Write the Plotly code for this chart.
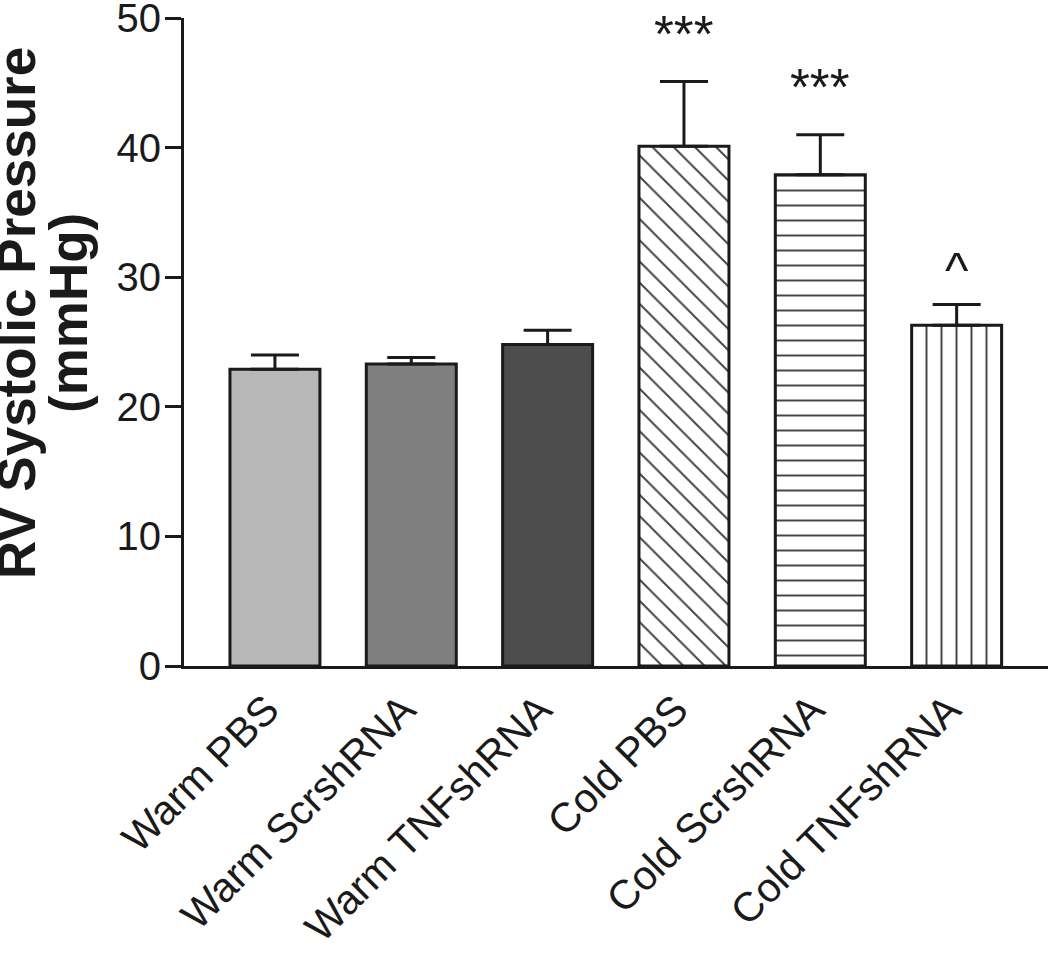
import plotly.graph_objects as go

categories = ["Warm PBS", "Warm ScrshRNA", "Warm TNFshRNA",
              "Cold PBS", "Cold ScrshRNA", "Cold TNFshRNA"]
means = [22.9, 23.3, 24.8, 40.1, 37.9, 26.3]
sem = [1.1, 0.5, 1.1, 5.0, 3.1, 1.6]
fill_colors = ["#b7b7b7", "#7f7f7f", "#4d4d4d", "white", "white", "white"]
pattern_shapes = ["", "", "", "\\", "-", "|"]
sig_labels = ["", "", "", "***", "***", "^"]
y_ticks = [0, 10, 20, 30, 40, 50]

FONT = "Liberation Sans, Arial, Helvetica, sans-serif"

fig = go.Figure()
fig.add_trace(go.Bar(
    x=categories,
    y=means,
    width=0.66,
    marker=dict(
        color=fill_colors,
        line=dict(color="#1a1a1a", width=3),
        pattern=dict(shape=pattern_shapes, fgcolor="#1a1a1a", bgcolor="white",
                     fgopacity=1, size=15, solidity=0.13, fillmode="overlay"),
    ),
    error_y=dict(type="data", symmetric=False, array=sem,
                 arrayminus=[0] * len(sem), color="#1a1a1a",
                 thickness=3, width=24),
    showlegend=False,
))

for cat, m, e, lab in zip(categories, means, sem, sig_labels):
    if lab:
        fig.add_annotation(x=cat, y=m + e, text=lab, showarrow=False,
                           yanchor="bottom", yshift=17 if lab != "^" else 4,
                           font=dict(family=FONT, size=51 if lab != "^" else 50,
                                     color="#1a1a1a"))

fig.add_annotation(
    xref="paper", yref="paper", x=-0.193, y=0.545,
    text="<b>RV Systolic Pressure</b>",
    textangle=-90, showarrow=False, xanchor="center", yanchor="middle",
    font=dict(family=FONT, size=53, color="#1a1a1a"),
)
fig.add_annotation(
    xref="paper", yref="paper", x=-0.133, y=0.545,
    text="<b>(mmHg)</b>",
    textangle=-90, showarrow=False, xanchor="center", yanchor="middle",
    font=dict(family=FONT, size=53, color="#1a1a1a"),
)

fig.update_layout(
    width=1050, height=961,
    margin=dict(l=184, r=2, t=18, b=295, autoexpand=False),
    paper_bgcolor="white", plot_bgcolor="white",
    font=dict(family=FONT, color="#1a1a1a"),
    bargap=0.34,
)
fig.update_xaxes(
    range=[-0.667, 5.67], showline=True, linecolor="#1a1a1a", linewidth=3,
    ticks="", tickangle=-45, tickfont=dict(family=FONT, size=41, color="#1a1a1a"),
    ticklabelshift=-8,
    showgrid=False, zeroline=False, automargin=False,
)
fig.update_yaxes(
    range=[0, 50], tickvals=y_ticks, showline=True, linecolor="#1a1a1a",
    linewidth=3, ticks="outside", ticklen=16, tickwidth=3, tickcolor="#1a1a1a",
    tickfont=dict(family=FONT, size=40, color="#1a1a1a"),
    ticklabelstandoff=-4,
    showgrid=False, zeroline=False, automargin=False, ticklabeloverflow="allow",
)

fig.write_html("out.html", config={"displayModeBar": False},
               post_script="document.body.style.margin='0';document.body.style.padding='0';")
